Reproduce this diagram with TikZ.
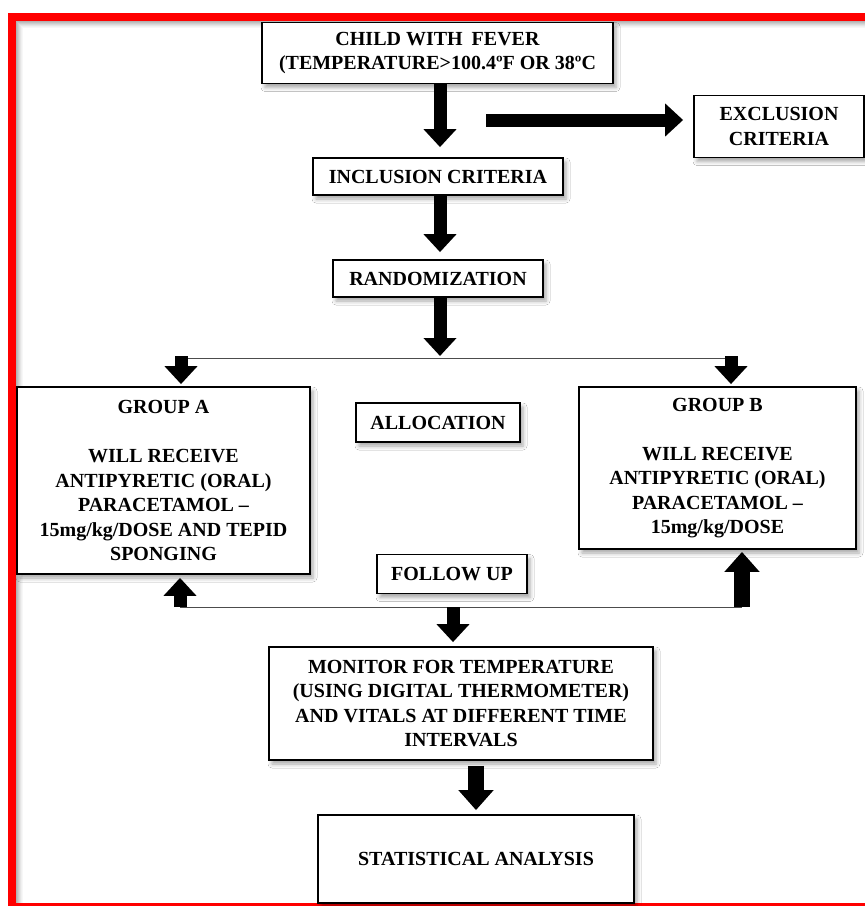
\documentclass[tikz,border=0pt]{standalone}
\usepackage{fontspec}
\setmainfont{Liberation Serif}
\usetikzlibrary{arrows.meta,shadows.blur}
\tikzset{
  box/.style={draw=black, line width=1.8pt, fill=white, align=center, inner sep=0pt,
    font=\fontsize{20}{24.5}\selectfont\bfseries,
    blur shadow={shadow xshift=3pt, shadow yshift=-4pt, shadow blur radius=4pt, shadow opacity=35}},
  blk/.style={line width=13pt, -{Triangle[width=32pt,length=18pt]}},
  blkwide/.style={line width=16pt, -{Triangle[width=34pt,length=20pt]}},
  thinline/.style={draw=black!70, line width=1pt},
}
\begin{document}
\begin{tikzpicture}[x=1pt,y=-1pt]
\useasboundingbox (0,0) rectangle (865,906);
\fill[white] (0,0) rectangle (865,906);
% inner shadow of frame
\foreach \i/\o in {0.5/0.30,1.5/0.25,2.5/0.20,3.5/0.15,4.5/0.10,5.5/0.06,6.5/0.03}
  \draw[black, opacity=\o, line width=1pt] (870,21+\i) -- (16+\i,21+\i) -- (16+\i,903);
% red frame
\draw[red, line width=8pt] (12,17) rectangle (905,907);

% nodes
\node[box, minimum width=351pt, minimum height=61pt] (child) at (437.5,53)
  {CHILD WITH\hspace{4pt} FEVER\\(TEMPERATURE>100.4ºF OR 38ºC};
\node[box, minimum width=170pt, minimum height=62pt] (excl) at (779,126.5)
  {EXCLUSION\\CRITERIA};
\node[box, minimum width=250pt, minimum height=37pt] (incl) at (438,176.5)
  {INCLUSION CRITERIA};
\node[box, minimum width=210pt, minimum height=37pt] (rand) at (438,278.5)
  {RANDOMIZATION};
\node[box, minimum width=293pt, minimum height=187pt] (grpA) at (163.5,480.5)
  {GROUP A\\[24.5pt]WILL RECEIVE\\ANTIPYRETIC (ORAL)\\PARACETAMOL –\\15mg/kg/DOSE AND TEPID\\SPONGING};
\node[box, minimum width=164pt, minimum height=39pt] (alloc) at (438,422.5)
  {ALLOCATION};
\node[box, minimum width=277pt, minimum height=162pt] (grpB) at (717.5,468)
  {GROUP B\\[24.5pt]WILL RECEIVE\\ANTIPYRETIC (ORAL)\\PARACETAMOL –\\15mg/kg/DOSE};
\node[box, minimum width=150pt, minimum height=39pt] (follow) at (452,574)
  {FOLLOW UP};
\node[box, minimum width=384pt, minimum height=113pt] (monitor) at (461,703.5)
  {MONITOR FOR TEMPERATURE\\(USING DIGITAL THERMOMETER)\\AND VITALS AT DIFFERENT TIME\\INTERVALS};
\node[box, minimum width=316pt, minimum height=88pt] (stat) at (476,859)
  {STATISTICAL ANALYSIS};

% helper coordinates
\coordinate (hs) at (486,120);
\coordinate (sL) at (181,358);
\coordinate (sM) at (440,358);
\coordinate (sR) at (731,358);
\coordinate (bL) at (180,607);
\coordinate (bM) at (453,607);
\coordinate (bR) at (742,607);

% connectors
\draw[blk, shorten >=10pt] (child.south -| sM) -- (sM |- incl.north);
\draw[blk, shorten >=10pt] (hs) -- (hs -| excl.west);
\draw[blk, shorten >=7pt] (incl.south -| sM) -- (sM |- rand.north);
\draw[blk, shorten >=2pt] (rand.south -| sM) -- (sM);
\draw[thinline] (sL) -- (sR);
\draw[blk, shorten >=2pt] ([yshift=2pt]sL) -- (sL |- grpA.north);
\draw[blk, shorten >=2pt] ([yshift=2pt]sR) -- (sR |- grpB.north);
\draw[thinline] (bL) -- (bR);
\draw[blk, shorten >=3pt] (bL) -- (bL |- grpA.south);
\draw[blkwide, shorten >=2pt] (bR) -- (bR |- grpB.south);
\draw[blk, shorten >=4pt] (bM) -- (bM |- monitor.north);
\draw[blkwide, shorten <=5pt, shorten >=4pt] (monitor.south -| stat) -- (stat.north);
\end{tikzpicture}
\end{document}
